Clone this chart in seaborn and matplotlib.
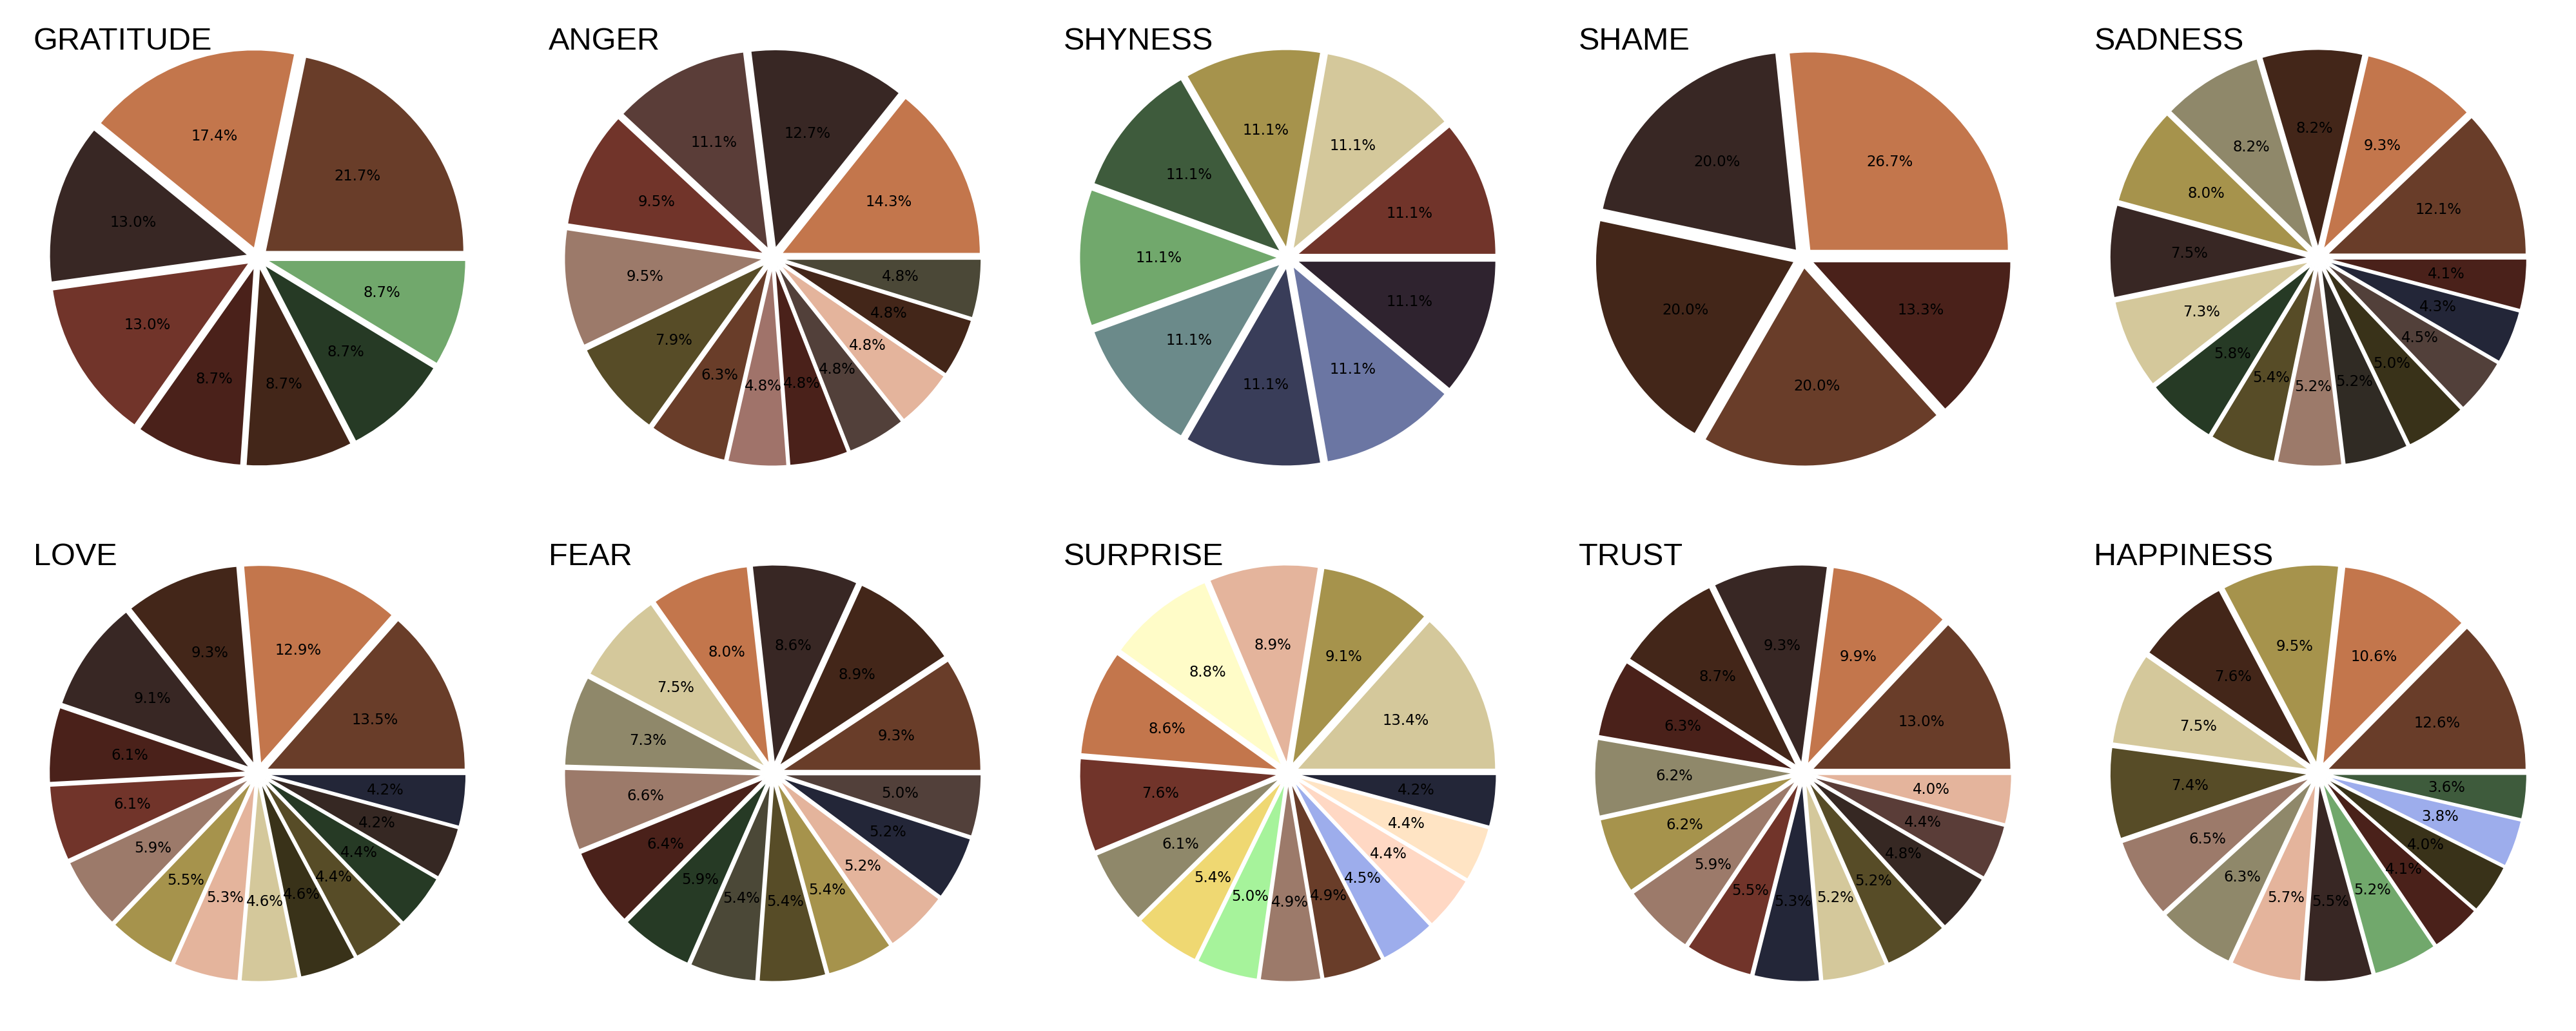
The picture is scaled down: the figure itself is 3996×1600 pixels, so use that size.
#!/usr/bin/env python3
# Emotion breakdown: grid of exploded pie charts

import matplotlib
matplotlib.use("Agg")
import matplotlib.pyplot as plt
import seaborn as sns

# ============================================================================
# DATA
# ============================================================================
emotions = ["GRATITUDE", "ANGER", "SHYNESS", "SHAME", "SADNESS",
            "LOVE", "FEAR", "SURPRISE", "TRUST", "HAPPINESS"]

gratitude = [5, 4, 3, 3, 2, 2, 2, 2]
anger = [9, 8, 7, 6, 6, 5, 4, 3, 3, 3, 3, 3, 3]
shyness = [1, 1, 1, 1, 1, 1, 1, 1, 1]
shame = [4, 3, 3, 3, 2]
sadness = [12.1, 9.3, 8.2, 8.2, 8.0, 7.5, 7.3, 5.8, 5.4, 5.2, 5.2, 5.0, 4.5, 4.3, 4.1]
love = [13.5, 12.9, 9.3, 9.1, 6.1, 6.1, 5.9, 5.5, 5.3, 4.6, 4.6, 4.4, 4.4, 4.2, 4.2]
fear = [9.3, 8.9, 8.6, 8.0, 7.5, 7.3, 6.6, 6.4, 5.9, 5.4, 5.4, 5.4, 5.2, 5.2, 5.0]
surprise = [13.4, 9.1, 8.9, 8.8, 8.6, 7.6, 6.1, 5.4, 5.0, 4.9, 4.9, 4.5, 4.4, 4.4, 4.2]
trust = [13.0, 9.9, 9.3, 8.7, 6.3, 6.2, 6.2, 5.9, 5.5, 5.3, 5.2, 5.2, 4.8, 4.4, 4.0]
happiness = [12.6, 10.6, 9.5, 7.6, 7.5, 7.4, 6.5, 6.3, 5.7, 5.5, 5.2, 4.1, 4.0, 3.8, 3.6]

values = [gratitude, anger, shyness, shame, sadness,
          love, fear, surprise, trust, happiness]

# ============================================================================
# COLOURS
# ============================================================================
palette = {
    "brown": "#693D29", "copper": "#C3764C", "espresso": "#382724",
    "rust": "#71342A", "maroon": "#4A211A", "chocolate": "#432619",
    "pine": "#263A25", "sage": "#71A86C", "mocha": "#5A3D38",
    "taupe": "#9C7A6A", "olive": "#574C27", "rose": "#A0736A",
    "umber": "#52403A", "peach": "#E4B49C", "moss": "#4B4837",
    "mustard": "#A6934C", "khaki": "#D4C89B", "forest": "#3E5B3C",
    "slate": "#6B8A8A", "navy": "#393D59", "periwinkle": "#6B76A3",
    "plum": "#2F232F", "stone": "#8F886A", "ink": "#232638",
    "charcoal": "#302B24", "bark": "#393219", "cream": "#FFFCC8",
    "yellow": "#EFD872", "mint": "#A6F39B", "sky": "#9DADEC",
    "blush": "#FFD8C4", "bisque": "#FFE4C4", "soot": "#362823",
}

wedge_colors = [
    ["brown", "copper", "espresso", "rust", "maroon", "chocolate", "pine", "sage"],
    ["copper", "espresso", "mocha", "rust", "taupe", "olive", "brown", "rose",
     "maroon", "umber", "peach", "chocolate", "moss"],
    ["rust", "khaki", "mustard", "forest", "sage", "slate", "navy", "periwinkle", "plum"],
    ["copper", "espresso", "chocolate", "brown", "maroon"],
    ["brown", "copper", "chocolate", "stone", "mustard", "espresso", "khaki", "pine",
     "olive", "taupe", "charcoal", "bark", "umber", "ink", "maroon"],
    ["brown", "copper", "chocolate", "espresso", "maroon", "rust", "taupe", "mustard",
     "peach", "khaki", "bark", "olive", "pine", "soot", "ink"],
    ["brown", "chocolate", "espresso", "copper", "khaki", "stone", "taupe", "maroon",
     "pine", "moss", "olive", "mustard", "peach", "ink", "umber"],
    ["khaki", "mustard", "peach", "cream", "copper", "rust", "stone", "yellow",
     "mint", "taupe", "brown", "sky", "blush", "bisque", "ink"],
    ["brown", "copper", "espresso", "chocolate", "maroon", "stone", "mustard", "taupe",
     "rust", "ink", "khaki", "olive", "soot", "mocha", "peach"],
    ["brown", "copper", "mustard", "chocolate", "khaki", "olive", "taupe", "stone",
     "peach", "espresso", "sage", "maroon", "bark", "sky", "forest"],
]

# ============================================================================
# THEME SETTINGS
# ============================================================================
sns.set_theme(style="white")
plt.rcParams['font.family'] = ['DejaVu Sans']

# ============================================================================
# CREATE PLOT
# ============================================================================
fig = plt.figure(figsize=(19.98, 8), dpi=200)
n_cols, n_rows = 5, 2
ax_w = 770 / 3996
ax_h = 770 / 1600

for i, (name, vals, cols) in enumerate(zip(emotions, values, wedge_colors)):
    row, col = divmod(i, n_cols)
    cx = (col + 0.5) / n_cols
    cy = 1 - (row + 0.5) / n_rows
    ax = fig.add_axes([cx - ax_w / 2, cy - ax_h / 2, ax_w, ax_h])

    ax.pie(vals,
           colors=[palette[c] for c in cols],
           explode=[0.05] * len(vals),
           autopct='%1.1f%%',
           startangle=0,
           wedgeprops=dict(edgecolor='white', linewidth=0.6),
           textprops=dict(fontsize=8.2, color='black'))

    ax.text(-1.13, 1.049, name, ha='left', va='baseline',
            fontsize=17.5, family=['Liberation Sans'], color='black')

# ============================================================================
# SAVE OUTPUT
# ============================================================================
fig.savefig("out.png", dpi=200)
plt.close(fig)
